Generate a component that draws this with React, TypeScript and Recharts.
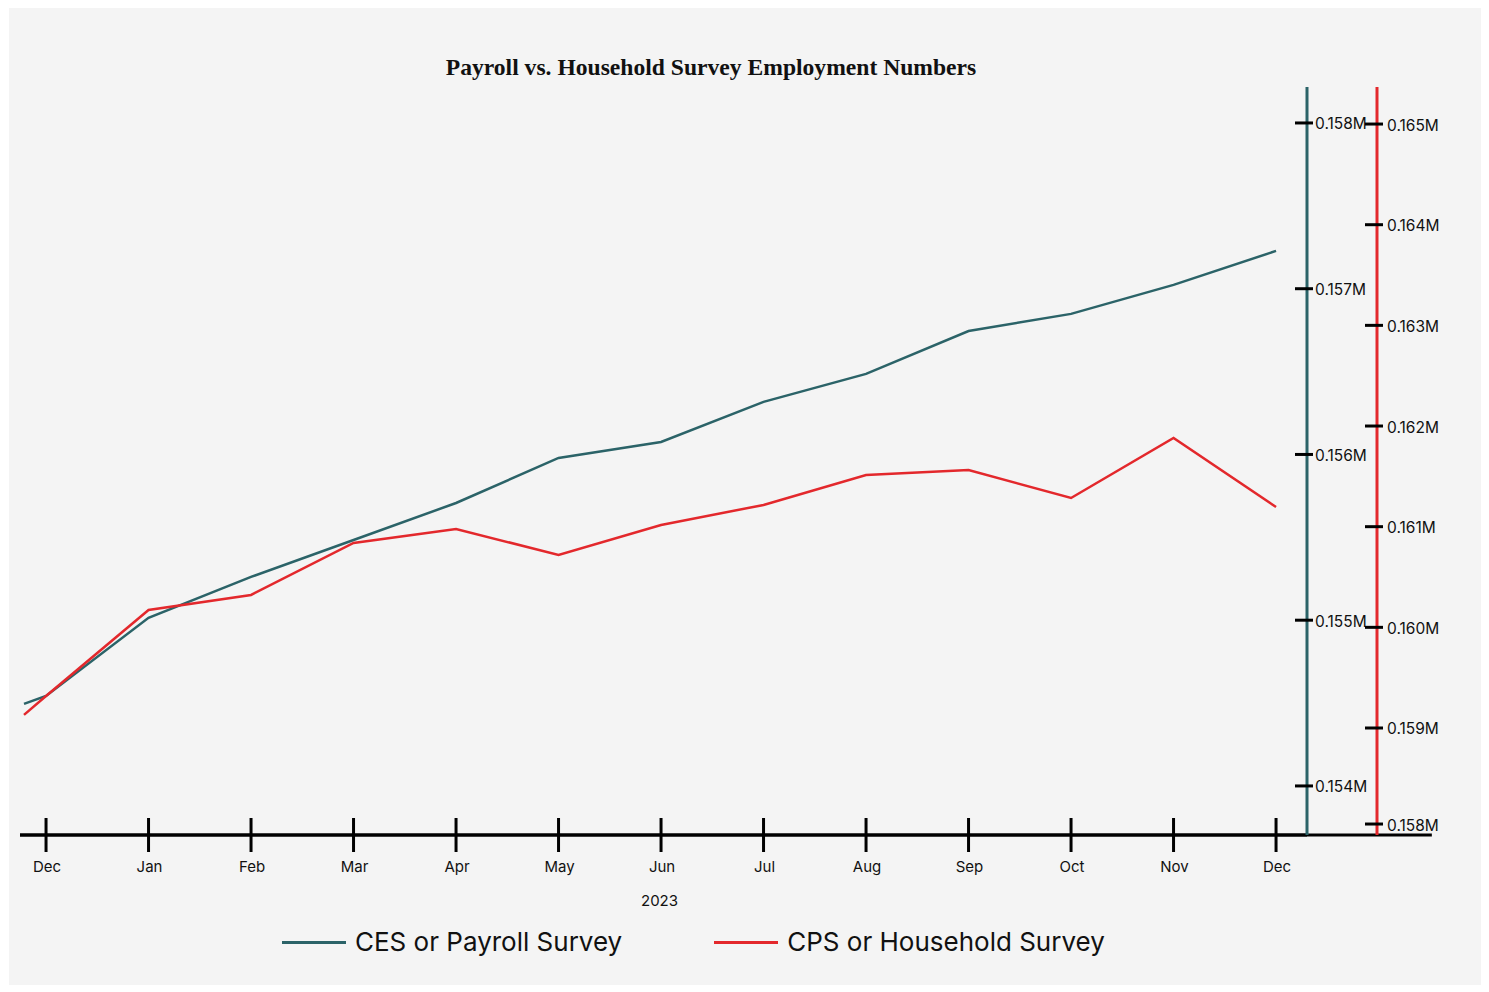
import React from 'react';
import { LineChart, Line, XAxis, YAxis, Legend, ReferenceLine } from 'recharts';

const monthLabels = ['Dec', 'Jan', 'Feb', 'Mar', 'Apr', 'May', 'Jun', 'Jul', 'Aug', 'Sep', 'Oct', 'Nov', 'Dec'];
const monthTicks = [0, 1, 2, 3, 4, 5, 6, 7, 8, 9, 10, 11, 12];
const pointIndex = [-0.215, 0, 1, 2, 3, 4, 5, 6, 7, 8, 9, 10, 11, 12];
const cesValues = [154495, 154543, 155014, 155261, 155484, 155707, 155979, 156075, 156317, 156486, 156745, 156848, 157023, 157228];
const cpsValues = [159130, 159318, 160173, 160322, 160838, 160977, 160719, 161017, 161216, 161514, 161563, 161285, 161881, 161196];
const cesTicks = [154000, 155000, 156000, 157000, 158000];
const cpsTicks = [158046, 159000, 160000, 161000, 162000, 163000, 164000, 165000];
const cesDomain: [number, number] = [153704, 158217];
const cpsDomain: [number, number] = [157937, 165368];
const xDomain: [number, number] = [-0.254, 12.302];
const xAxisLineEnd = 13.52;
const seriesNames = ['CES or Payroll Survey', 'CPS or Household Survey'];
const titleText = 'Payroll vs. Household Survey Employment Numbers';
const yearLabel = '2023';

const TEAL = '#2b6368';
const RED = '#e3282c';
const SANS = 'Inter, "Liberation Sans", Arial, sans-serif';

const data = pointIndex.map((idx, i) => ({ idx, ces: cesValues[i], cps: cpsValues[i] }));

const fmtM = (v: number) => (v / 1e6).toFixed(3) + 'M';

const XTick = (props: any) => {
  const { x, y, payload } = props;
  return (
    <g>
      <line x1={x} x2={x} y1={y - 17} y2={y + 17} stroke="#000" strokeWidth={3} />
      <text x={x + 1} y={y + 31} textAnchor="middle" dominantBaseline="central" fontSize={15} fill="#111" fontFamily={SANS}>
        {monthLabels[Math.round(payload.value)]}
      </text>
    </g>
  );
};

const makeYTick = (left: number, right: number, textGap: number) => (props: any) => {
  const { x, y, payload } = props;
  return (
    <g>
      <line x1={x - left} x2={x + right} y1={y} y2={y} stroke="#000" strokeWidth={3} />
      <text x={x + textGap} y={y + 1} textAnchor="start" dominantBaseline="central" fontSize={15.5} fill="#111" fontFamily={SANS}>
        {fmtM(payload.value)}
      </text>
    </g>
  );
};

const CesTick = makeYTick(12, 6, 8);
const CpsTick = makeYTick(12, 6, 10);

const renderLegend = (props: any) => {
  const { payload } = props;
  return (
    <div style={{ display: 'flex', alignItems: 'center', paddingLeft: 273, height: 30, fontFamily: SANS, fontSize: 26, color: '#111' }}>
      {(payload || []).map((entry: any, i: number) => (
        <div key={i} style={{ display: 'flex', alignItems: 'center', marginRight: 92 }}>
          <span style={{ display: 'inline-block', width: 64, height: 3, background: entry.color }} />
          <span style={{ marginLeft: 9, lineHeight: '30px' }}>{entry.value}</span>
        </div>
      ))}
    </div>
  );
};

export default function App() {
  return (
    <div style={{ position: 'relative', width: 1473, height: 978, background: '#f4f4f4', marginLeft: 1, marginTop: -1 }}>
      <div
        style={{
          position: 'absolute',
          left: 387,
          width: 630,
          top: 47,
          textAlign: 'center',
          fontFamily: '"Liberation Serif", "DejaVu Serif", serif',
          fontWeight: 700,
          fontSize: 23.6,
          lineHeight: '26px',
          color: '#111',
          zIndex: 2,
        }}
      >
        {titleText}
      </div>
      <LineChart width={1473} height={978} data={data} margin={{ top: 80, left: 11, right: 25, bottom: 50 }}>
        <XAxis
          dataKey="idx"
          type="number"
          domain={xDomain}
          ticks={monthTicks}
          interval={0}
          allowDataOverflow
          height={100}
          tickSize={0}
          tickMargin={0}
          tickLine={false}
          axisLine={{ stroke: '#000', strokeWidth: 3 }}
          tick={<XTick />}
          label={{ value: yearLabel, position: 'insideBottom', offset: 29, dx: -4, fill: '#111', fontSize: 15, fontFamily: SANS }}
        />
        <YAxis
          yAxisId="ces"
          orientation="right"
          width={70}
          domain={cesDomain}
          ticks={cesTicks}
          interval={0}
          allowDataOverflow
          tickSize={0}
          tickMargin={0}
          tickLine={false}
          axisLine={{ stroke: TEAL, strokeWidth: 3 }}
          tick={<CesTick />}
        />
        <YAxis
          yAxisId="cps"
          orientation="right"
          width={80}
          domain={cpsDomain}
          ticks={cpsTicks}
          interval={0}
          allowDataOverflow
          tickSize={0}
          tickMargin={0}
          tickLine={false}
          axisLine={{ stroke: RED, strokeWidth: 3 }}
          tick={<CpsTick />}
        />
        <ReferenceLine
          yAxisId="ces"
          segment={[{ x: xDomain[0], y: cesDomain[0] }, { x: xAxisLineEnd, y: cesDomain[0] }]}
          stroke="#000"
          strokeWidth={3}
          ifOverflow="visible"
        />
        <Line yAxisId="ces" name={seriesNames[0]} dataKey="ces" type="linear" stroke={TEAL} strokeWidth={2.5} dot={false} isAnimationActive={false} />
        <Line yAxisId="cps" name={seriesNames[1]} dataKey="cps" type="linear" stroke={RED} strokeWidth={2.5} dot={false} isAnimationActive={false} />
        <Legend
          layout="horizontal"
          verticalAlign="middle"
          align="center"
          content={renderLegend}
          wrapperStyle={{ top: 920, left: 0, width: 1473, height: 30 }}
        />
      </LineChart>
    </div>
  );
}
